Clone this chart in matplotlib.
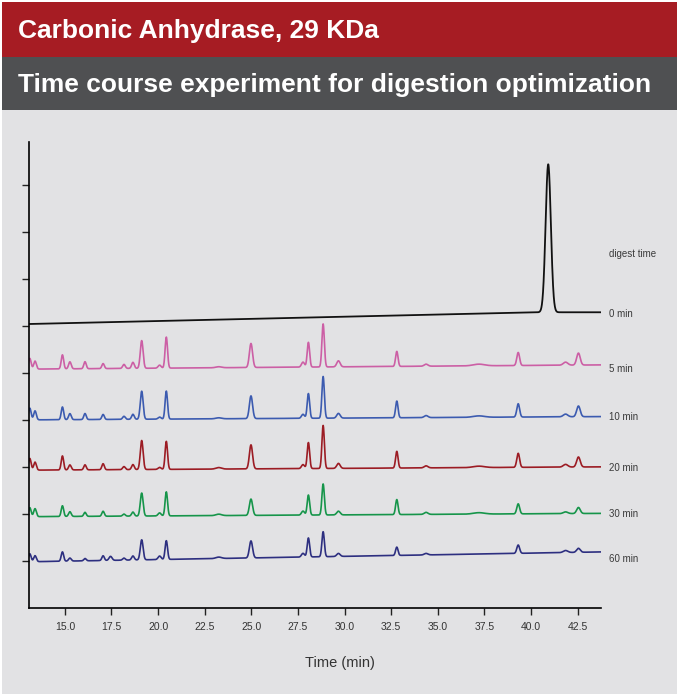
import numpy as np
import matplotlib
matplotlib.use("Agg")
import matplotlib.pyplot as plt
from matplotlib.patches import Rectangle

# retention times of the peptide peaks (min) and their widths
p_times = [13.12, 13.40, 14.87, 15.27, 16.08, 17.05, 17.45, 18.17, 18.65, 19.12, 20.08, 20.44,
           23.25, 24.98, 27.77, 28.06, 28.85, 29.67, 32.80, 34.37, 37.20, 39.31, 41.85, 42.54]
p_sigma = [0.07, 0.07, 0.065, 0.07, 0.065, 0.065, 0.08, 0.07, 0.07, 0.075, 0.08, 0.065,
           0.15, 0.085, 0.08, 0.065, 0.065, 0.09, 0.065, 0.10, 0.30, 0.075, 0.12, 0.095]

# peak heights per digest time
h_5 = [0.228, 0.170, 0.298, 0.149, 0.149, 0.106, 0.0, 0.085, 0.128, 0.589, 0.064, 0.660,
       0.021, 0.511, 0.106, 0.526, 0.915, 0.128, 0.319, 0.043, 0.035, 0.277, 0.064, 0.255]
h_10 = [0.249, 0.191, 0.270, 0.128, 0.128, 0.106, 0.0, 0.064, 0.106, 0.596, 0.043, 0.596,
        0.021, 0.483, 0.085, 0.526, 0.887, 0.100, 0.355, 0.043, 0.03, 0.283, 0.057, 0.228]
h_20 = [0.249, 0.170, 0.298, 0.106, 0.106, 0.128, 0.0, 0.064, 0.106, 0.617, 0.043, 0.596,
        0.032, 0.511, 0.085, 0.553, 0.915, 0.106, 0.355, 0.043, 0.03, 0.298, 0.057, 0.213]
h_30 = [0.191, 0.170, 0.228, 0.100, 0.085, 0.106, 0.0, 0.043, 0.085, 0.489, 0.064, 0.511,
        0.03, 0.347, 0.085, 0.426, 0.660, 0.079, 0.319, 0.043, 0.03, 0.213, 0.036, 0.128]
h_60 = [0.170, 0.128, 0.198, 0.064, 0.049, 0.100, 0.085, 0.043, 0.085, 0.426, 0.074, 0.398,
        0.03, 0.362, 0.079, 0.404, 0.532, 0.064, 0.177, 0.032, 0.0, 0.177, 0.043, 0.085]

# baseline (start, end) offsets of each stacked trace
base_5 = (5.09, 5.18)
base_10 = (4.01, 4.08)
base_20 = (2.94, 3.01)
base_30 = (1.95, 2.02)
base_60 = (0.99, 1.20)

# undigested protein (0 min): one big peak on a drifting baseline
base0_t = [13.05, 40.5, 43.75]
base0_y = [6.05, 6.30, 6.30]
p0_time, p0_height, p0_sigma = 40.92, 3.15, 0.14

labels = ["0 min", "5 min", "10 min", "20 min", "30 min", "60 min"]
label_y = [6.26, 5.09, 4.08, 2.985, 2.006, 1.04]
colors = ["#111111", "#cc5fa5", "#3c5bb0", "#9c1c24", "#16954a", "#2d2f80"]
xticks = [15.0, 17.5, 20.0, 22.5, 25.0, 27.5, 30.0, 32.5, 35.0, 37.5, 40.0, 42.5]

t = np.linspace(13.05, 43.75, 4000)


def trace(heights, base):
    y = base[0] + (base[1] - base[0]) * (t - t[0]) / (t[-1] - t[0])
    for tp, s, h in zip(p_times, p_sigma, heights):
        y = y + h * np.exp(-0.5 * ((t - tp) / s) ** 2)
    return y


fig = plt.figure(figsize=(6.77, 6.94), dpi=100, facecolor="white")
W, H = 677, 694
# banners and panel background
fig.patches.append(Rectangle((2 / W, 0), 1, 1 - 110 / H, transform=fig.transFigure,
                             facecolor="#e2e2e4", edgecolor="none", zorder=-10))
fig.patches.append(Rectangle((2 / W, 1 - 110 / H), 1, 53 / H, transform=fig.transFigure,
                             facecolor="#4f5052", edgecolor="none", zorder=-10))
fig.patches.append(Rectangle((2 / W, 1 - 57 / H), 1, 55 / H, transform=fig.transFigure,
                             facecolor="#a61c23", edgecolor="none", zorder=-10))
fig.text(18 / W, 1 - 31 / H, "Carbonic Anhydrase, 29 KDa", color="white", fontsize=19,
         fontweight="bold", family="Liberation Sans", va="center", ha="left")
fig.text(18 / W, 1 - 85 / H, "Time course experiment for digestion optimization", color="white",
         fontsize=19, fontweight="bold", family="Liberation Sans", va="center", ha="left")

ax = fig.add_axes([28.5 / W, 1 - 608.3 / H, (601 - 28.5) / W, (608.3 - 141.7) / H])
ax.set_facecolor("none")

y0 = np.interp(t, base0_t, base0_y) + p0_height * np.exp(-0.5 * ((t - p0_time) / p0_sigma) ** 2)
ax.plot(t, y0, color=colors[0], lw=1.3)
for heights, base, c in zip([h_5, h_10, h_20, h_30, h_60],
                            [base_5, base_10, base_20, base_30, base_60], colors[1:]):
    ax.plot(t, trace(heights, base), color=c, lw=1.2)

for lab, ly in zip(labels, label_y):
    ax.text(44.2, ly, lab, fontsize=7, color="#3a3a3a", family="Liberation Sans",
            va="center", ha="left", clip_on=False)
ax.text(44.2, 7.54, "digest time", fontsize=7, color="#3a3a3a", family="Liberation Sans",
        va="center", ha="left", clip_on=False)

ax.set_xlim(13.05, 43.75)
ax.set_ylim(0, 9.93)
ax.set_xticks(xticks)
ax.set_xticklabels([f"{v:.1f}" for v in xticks], family="Liberation Sans", fontsize=7.5,
                   color="#333333")
ax.set_yticks(range(1, 10))
ax.set_yticklabels([])
ax.tick_params(direction="out", length=5, width=1, color="#222222")
ax.tick_params(axis="x", pad=5)
for s in ["top", "right"]:
    ax.spines[s].set_visible(False)
for s in ["left", "bottom"]:
    ax.spines[s].set_linewidth(1.2)
ax.set_xlabel("Time (min)", family="Liberation Sans", fontsize=10.5, color="#333333",
              labelpad=17)
ax.xaxis.label.set_x(0.544)

fig.savefig("out.png", dpi=100, facecolor=fig.get_facecolor())
